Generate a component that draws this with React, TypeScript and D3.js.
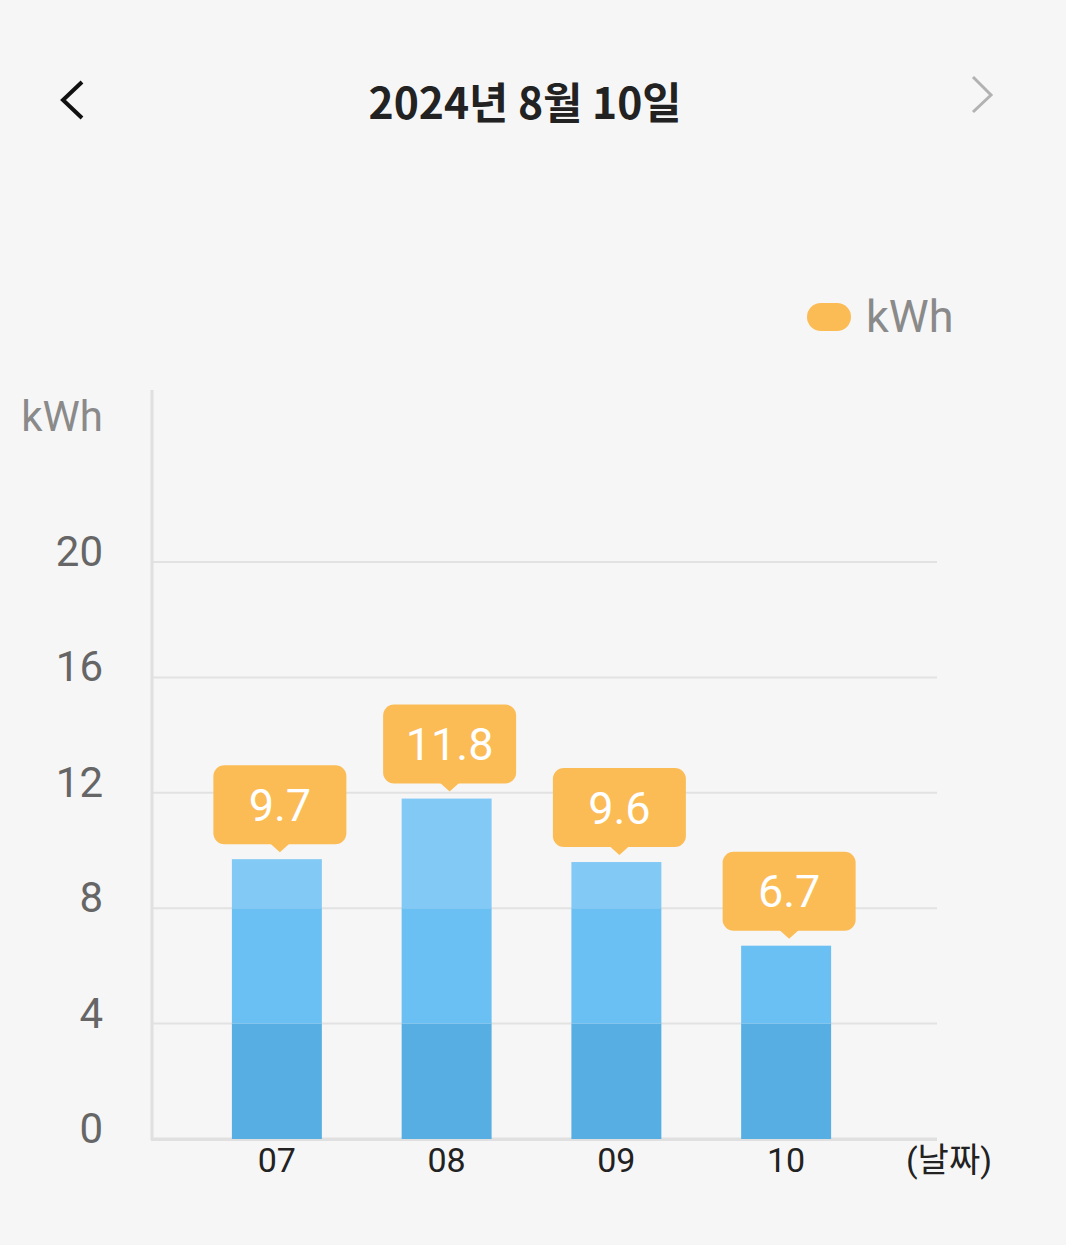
import React from "react";
import * as d3 from "d3";

const title = "2024년 8월 10일";
const days = ["07", "08", "09", "10"];
const values = [9.7, 11.8, 9.6, 6.7];
const yTicks = [0, 4, 8, 12, 16, 20];
const bandBreaks = [0, 4, 8];
const bandColors = ["#57aee3", "#6bc0f3", "#83c9f5"];
const unit = "kWh";
const xAxisLabel = "(날짜)";

const W = 1066;
const H = 1245;
const FONT = "Roboto, 'Noto Sans CJK KR', sans-serif";

export default function App() {
  const x = d3
    .scaleBand<string>()
    .domain(days)
    .range([192, 871])
    .paddingInner(0.47)
    .paddingOuter(0.235);
  const y = d3.scaleLinear().domain([0, 20]).range([1139, 562]);

  const boxW = 133;
  const boxH = 79;

  return (
    <svg width={W} height={H} style={{ position: "absolute", left: 0, top: 0, background: "#f6f6f6" }}>
      <rect x={0} y={0} width={W} height={H} fill="#f6f6f6" />
      {/* header */}
      <polyline points="82,82 63,100 82,118" fill="none" stroke="#111" strokeWidth={4} strokeLinejoin="miter" />
      <polyline points="973,77 991,95 973,112" fill="none" stroke="#b2b2b2" strokeWidth={3} />
      <text x={525} y={119} textAnchor="middle" fontFamily="'Noto Sans CJK KR', sans-serif" fontWeight={700} fontSize={43} fill="#222" textLength={313} lengthAdjust="spacingAndGlyphs">
        {title}
      </text>

      {/* legend */}
      <rect x={807} y={303} width={44} height={28} rx={14} fill="#fbbc55" />
      <text x={866} y={332} fontFamily={FONT} fontSize={45} fill="#8a8a8a">{unit}</text>

      {/* y unit */}
      <text x={103} y={431} textAnchor="end" fontFamily={FONT} fontSize={42} fill="#8a8a8a">{unit}</text>

      {/* grid */}
      {yTicks.filter((t) => t > 0).map((t) => (
        <line key={t} x1={152} x2={937} y1={y(t)} y2={y(t)} stroke="#e2e2e2" strokeWidth={2} />
      ))}
      {yTicks.map((t) => (
        <text key={"l" + t} x={103} y={y(t) + 4} textAnchor="end" fontFamily={FONT} fontSize={42} fill="#666">
          {t}
        </text>
      ))}

      {/* axes */}
      <line x1={152} x2={152} y1={390} y2={y(0) + 1} stroke="#e0e0e0" strokeWidth={3} />
      <line x1={151} x2={937} y1={y(0)} y2={y(0)} stroke="#e0e0e0" strokeWidth={3} />

      {/* bars */}
      {days.map((d, i) => {
        const v = values[i];
        const bx = x(d)!;
        const bw = x.bandwidth();
        return (
          <g key={d}>
            {bandBreaks.map((b, j) => {
              const top = j < bandBreaks.length - 1 ? Math.min(v, bandBreaks[j + 1]) : v;
              if (top <= b) return null;
              return (
                <rect key={j} x={bx} width={bw} y={y(top)} height={y(b) - y(top)} fill={bandColors[j]} />
              );
            })}
          </g>
        );
      })}
      <line x1={151} x2={937} y1={y(0) + 1} y2={y(0) + 1} stroke="#e0e0e0" strokeWidth={2} />

      {/* value labels */}
      {days.map((d, i) => {
        const v = values[i];
        const cx = x(d)! + x.bandwidth() / 2 + 3;
        const tip = y(v) - 7;
        const bottom = y(v) - 15;
        const top = bottom - boxH;
        return (
          <g key={"v" + d}>
            <rect x={cx - boxW / 2} y={top} width={boxW} height={boxH} rx={11} fill="#fbbc55" />
            <path d={`M${cx - 10},${bottom - 1} L${cx},${tip} L${cx + 10},${bottom - 1} Z`} fill="#fbbc55" />
            <text x={cx} y={top + boxH / 2 + 16} textAnchor="middle" fontFamily={FONT} fontSize={45} fill="#fff">
              {v.toFixed(1)}
            </text>
          </g>
        );
      })}

      {/* x labels */}
      {days.map((d) => (
        <text key={"x" + d} x={x(d)! + x.bandwidth() / 2} y={1172} textAnchor="middle" fontFamily={FONT} fontSize={34} fill="#222">
          {d}
        </text>
      ))}
      <text x={949} y={1172} textAnchor="middle" fontFamily={FONT} fontSize={34} fill="#222">{xAxisLabel}</text>
    </svg>
  );
}
